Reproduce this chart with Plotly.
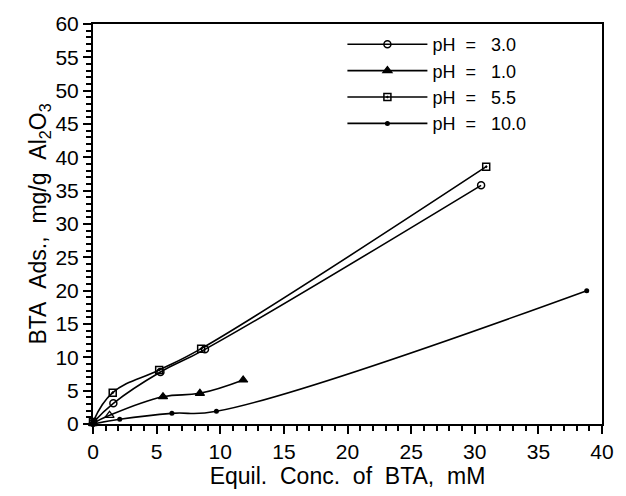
import plotly.graph_objects as go

# pH 3.0 (open circles)
x_ph3 = [0.0, 1.6, 5.3, 8.8, 30.5]
y_ph3 = [0.2, 3.1, 7.8, 11.2, 35.8]
# pH 1.0 (triangles)
x_ph1 = [0.0, 1.3, 5.5, 8.4, 11.8]
y_ph1 = [0.1, 1.3, 4.1, 4.6, 6.6]
# pH 5.5 (open squares)
x_ph55 = [0.0, 1.55, 5.2, 8.5, 30.9]
y_ph55 = [0.3, 4.7, 8.1, 11.3, 38.6]
# pH 10.0 (small dots)
x_ph10 = [0.0, 2.1, 6.2, 9.7, 38.8]
y_ph10 = [0.0, 0.7, 1.6, 1.9, 20.0]

nb = "\u00a0"
names = [f"pH{nb*2}={nb*3}3.0", f"pH{nb*2}={nb*3}1.0",
         f"pH{nb*2}={nb*3}5.5", f"pH{nb*2}={nb*3}10.0"]

FONT = "Liberation Sans, Arial, sans-serif"

tri_symbols = ["triangle-up", "triangle-up-open", "triangle-up", "triangle-up", "triangle-up"]

fig = go.Figure()
series = [
    (x_ph3, y_ph3, names[0], dict(symbol="circle-open", size=7, color="black", line=dict(width=1.5))),
    (x_ph1, y_ph1, names[1], dict(symbol=tri_symbols, size=8, color="black", line=dict(width=1.2, color="black"))),
    (x_ph55, y_ph55, names[2], dict(symbol="square-open-dot", size=7, color="black", line=dict(width=1.5))),
    (x_ph10, y_ph10, names[3], dict(symbol="circle", size=5, color="black")),
]
for xs, ys, nm, mk in series:
    fig.add_trace(go.Scatter(
        x=xs, y=ys, name=nm, mode="lines+markers",
        line=dict(color="black", width=1.6, shape="spline", smoothing=1.2),
        marker=mk, cliponaxis=False,
    ))

axis_common = dict(
    showline=True, linecolor="black", linewidth=2, mirror=True,
    ticks="outside", ticklen=8, tickwidth=2, tickcolor="black",
    showgrid=False, zeroline=False,
    tickfont=dict(family=FONT, size=21, color="black"),
    minor=dict(dtick=1, ticks="outside", ticklen=5, tickwidth=1.5, tickcolor="black", showgrid=False),
)

fig.update_xaxes(range=[0, 40], dtick=5, tick0=0,
                 title=dict(text=f"Equil.{nb*2}Conc.{nb*2}of{nb*2}BTA,{nb*2}mM",
                            font=dict(family=FONT, size=23, color="black"), standoff=0),
                 **axis_common)
fig.update_yaxes(range=[0, 60], dtick=5, tick0=0,
                 title=dict(text=f"BTA{nb*2}Ads.,{nb*2}mg/g{nb*2}Al<sub>2</sub>O<sub>3</sub>",
                            font=dict(family=FONT, size=23, color="black"), standoff=2),
                 **axis_common)

fig.update_layout(
    width=626, height=496,
    margin=dict(l=93, r=15, t=15, b=72),
    paper_bgcolor="white", plot_bgcolor="white",
    showlegend=True,
    legend=dict(x=0.49, y=0.995, xanchor="left", yanchor="top",
                font=dict(family=FONT, size=18, color="black"),
                bgcolor="rgba(0,0,0,0)", tracegroupgap=0, itemwidth=80),
)

fig.write_html("out.html")
